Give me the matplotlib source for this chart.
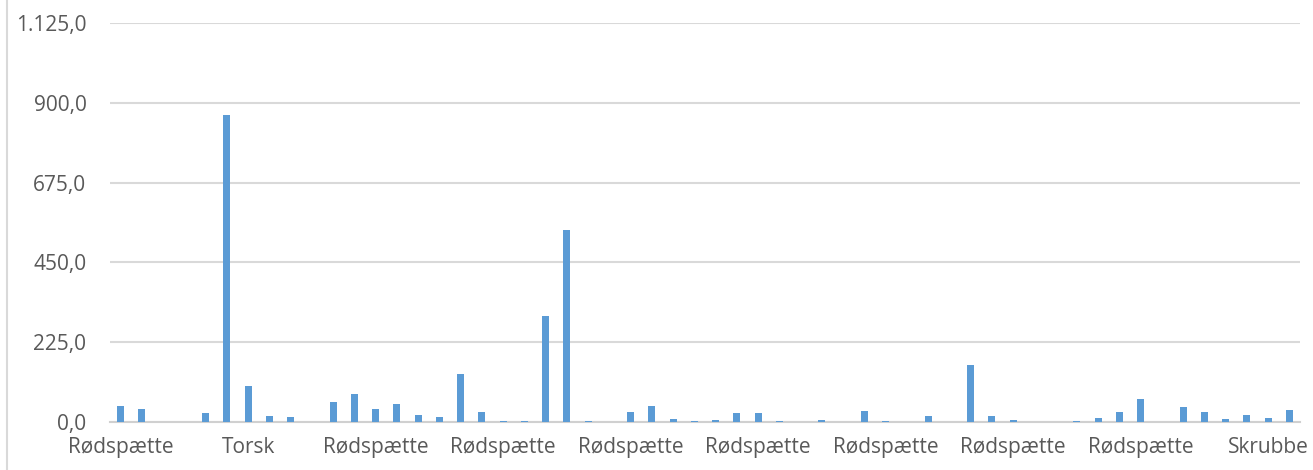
import matplotlib
matplotlib.use("Agg")
import matplotlib.pyplot as plt
from matplotlib.ticker import FuncFormatter, FixedLocator
from matplotlib.lines import Line2D

values = [45, 36, 0, 0, 25, 865, 102, 16, 14, 0,
          56, 79, 37, 52, 21, 15, 135, 27, 4, 2,
          298, 541, 4, 0, 27, 46, 9, 3, 7, 24,
          26, 2, 0, 7, 0, 30, 2, 1, 18, 0,
          161, 17, 7, 0, 1, 3, 12, 27, 65, 0,
          43, 29, 9, 21, 12, 33]
label_positions = [0, 6, 12, 18, 24, 30, 36, 42, 48, 54]
tick_labels = ["Rødspætte", "Torsk", "Rødspætte", "Rødspætte", "Rødspætte",
               "Rødspætte", "Rødspætte", "Rødspætte", "Rødspætte", "Skrubbe"]
y_ticks = [0, 225, 450, 675, 900, 1125]

plt.rcParams['font.family'] = ['Open Sans', 'DejaVu Sans']

fig = plt.figure(figsize=(13.13, 4.70), dpi=100)
ax = fig.add_axes([110/1313, 48/470, 1190/1313, 399/470])

x = list(range(len(values)))
ax.bar(x, values, width=0.33, color="#5b9bd5", zorder=3)
ax.set_xlim(-0.5, len(values) - 0.5)
ax.set_ylim(0, 1125)

ax.yaxis.set_major_locator(FixedLocator(y_ticks))
def fmt(v, pos):
    s = f"{v:,.1f}"
    return s.replace(",", "X").replace(".", ",").replace("X", ".")
ax.yaxis.set_major_formatter(FuncFormatter(fmt))
ax.set_xticks(label_positions)
ax.set_xticklabels(tick_labels)

ax.grid(axis="y", color="#d9d9d9", linewidth=1.5, zorder=0)
for s in ["top", "right", "left"]:
    ax.spines[s].set_visible(False)
ax.spines["bottom"].set_color("#d0d0d0")
ax.spines["bottom"].set_linewidth(1.5)
ax.tick_params(axis="both", length=0, labelsize=15, colors="#595959")
ax.tick_params(axis="y", pad=17)
ax.tick_params(axis="x", pad=11)

fig.add_artist(Line2D([7/1313, 7/1313], [0, 1], color="#d9d9d9", linewidth=1.5))

fig.savefig("out.png", dpi=100)
